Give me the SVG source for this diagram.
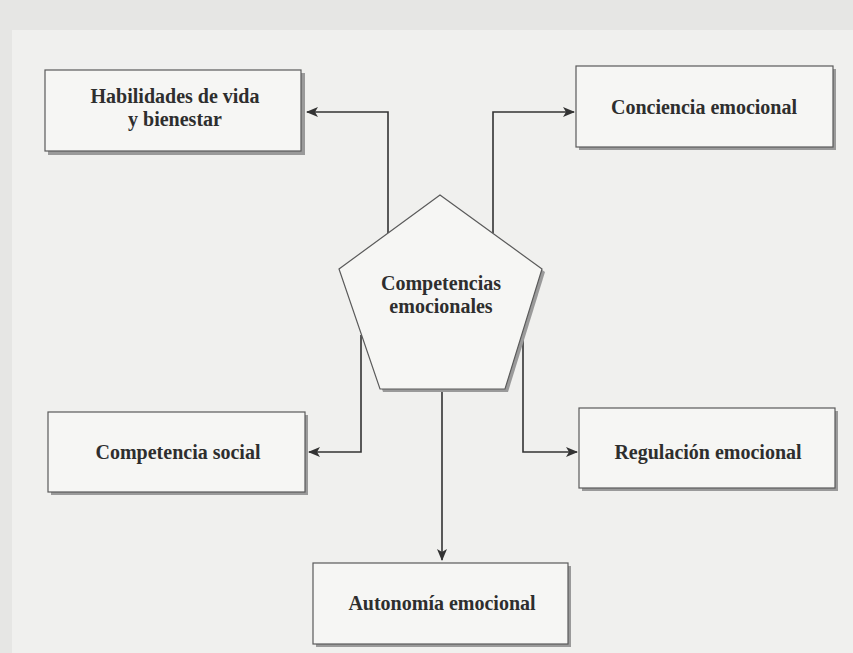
<svg xmlns="http://www.w3.org/2000/svg" width="853" height="653" viewBox="0 0 853 653">
<defs>
<style>
.box{fill:#f6f6f4;stroke:#5a5a5a;stroke-width:1.2}
.sh{fill:#9a9a9a}
.lbl{font-family:"Liberation Serif",serif;font-weight:bold;font-size:20px;fill:#2e2e2e;text-anchor:middle}
.con{fill:none;stroke:#333;stroke-width:1.6}
</style>
<marker id="ah" viewBox="0 0 12 10" refX="11" refY="5" markerWidth="12" markerHeight="10" markerUnits="userSpaceOnUse" orient="auto">
<path d="M0,0 L12,5 L0,10 L3,5 Z" fill="#333"/>
</marker>
</defs>
<rect width="853" height="653" fill="#e6e6e4"/>
<rect x="12" y="30" width="841" height="623" fill="#f0f0ee"/>
<g id="connectors">
<polyline class="con" points="388,233 388,112 307,112" marker-end="url(#ah)"/>
<polyline class="con" points="493,233 493,112 574,112" marker-end="url(#ah)"/>
<polyline class="con" points="361,335 361,452 309,452" marker-end="url(#ah)"/>
<polyline class="con" points="523,340 523,452 577,452" marker-end="url(#ah)"/>
<polyline class="con" points="442,389 442,560" marker-end="url(#ah)"/>
</g>
<g id="habilidades">
<rect class="sh" x="48" y="73" width="257" height="82"/>
<rect class="box" x="45" y="70" width="256" height="81"/>
<text class="lbl" x="175" y="103">Habilidades de vida</text>
<text class="lbl" x="175" y="126">y bienestar</text>
</g>
<g id="conciencia">
<rect class="sh" x="579" y="69" width="257" height="81"/>
<rect class="box" x="576" y="66" width="257" height="81"/>
<text class="lbl" x="704" y="114">Conciencia emocional</text>
</g>
<g id="competencias">
<polygon class="sh" points="443,198 545,272 508,392 383,392 342,272"/>
<polygon class="box" points="440,195 542,269 505,389 380,389 339,269"/>
<text class="lbl" x="441" y="290">Competencias</text>
<text class="lbl" x="441" y="313">emocionales</text>
</g>
<g id="social">
<rect class="sh" x="51" y="415" width="257" height="80"/>
<rect class="box" x="48" y="412" width="257" height="80"/>
<text class="lbl" x="178" y="459">Competencia social</text>
</g>
<g id="regulacion">
<rect class="sh" x="582" y="411" width="256" height="80"/>
<rect class="box" x="579" y="408" width="256" height="80"/>
<text class="lbl" x="708" y="459">Regulación emocional</text>
</g>
<g id="autonomia">
<rect class="sh" x="316" y="566" width="255" height="81"/>
<rect class="box" x="313" y="563" width="255" height="81"/>
<text class="lbl" x="442" y="610">Autonomía emocional</text>
</g>
</svg>
